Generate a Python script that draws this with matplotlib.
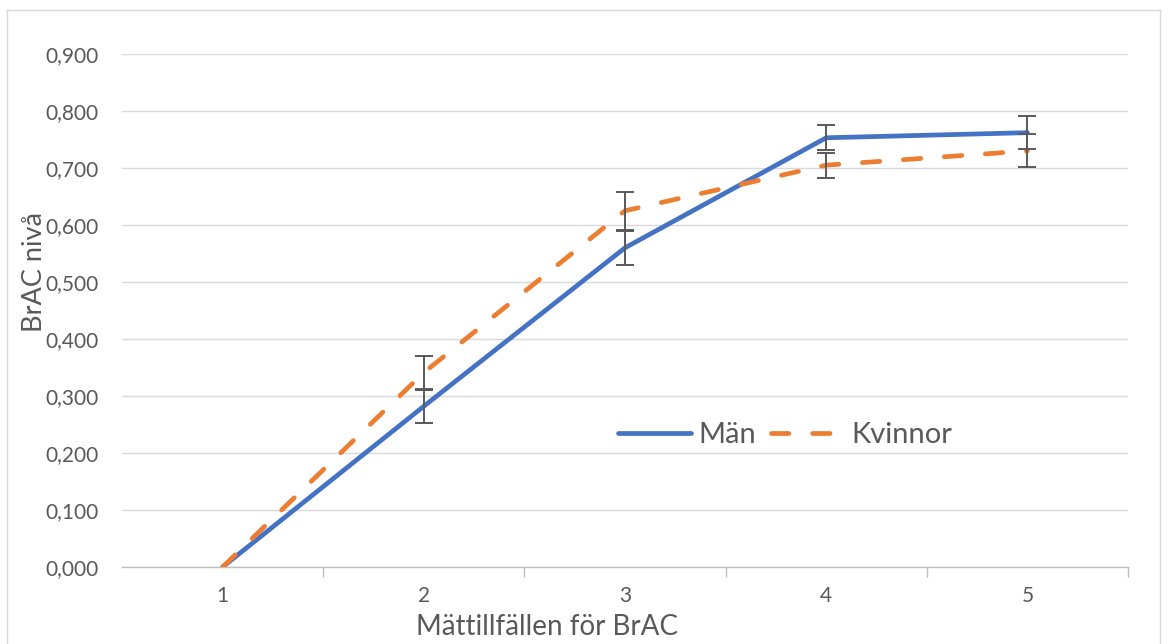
import matplotlib
matplotlib.use("Agg")
import matplotlib.pyplot as plt
from matplotlib.ticker import FuncFormatter
from matplotlib.lines import Line2D

categories = ["1", "2", "3", "4", "5"]
man = [0.0, 0.282, 0.560, 0.753, 0.762]
man_err = [0.0, 0.030, 0.030, 0.022, 0.029]
kvinnor = [0.0, 0.341, 0.625, 0.705, 0.730]
kvinnor_err = [0.0, 0.030, 0.033, 0.022, 0.029]
yticks = [0.0, 0.1, 0.2, 0.3, 0.4, 0.5, 0.6, 0.7, 0.8, 0.9]

plt.rcParams['font.family'] = ['Lato', 'DejaVu Sans']

W, H = 1168, 644
fig = plt.figure(figsize=(W / 100, H / 100), dpi=100)
ax = fig.add_axes([122 / W, 1 - 567 / H, (1128 - 122) / W, (567 - 54) / H])

x = list(range(1, len(categories) + 1))
blue = "#4472C4"
orange = "#ED7D31"
gray = "#595959"
dash = (3.7, 5.0)

ax.plot(x, man, color=blue, lw=3.4, solid_capstyle='round', zorder=3)
ax.plot(x, kvinnor, color=orange, lw=3.4, dashes=dash, dash_capstyle='round', zorder=3)
ax.errorbar(x[1:], man[1:], yerr=man_err[1:], fmt='none', ecolor=gray, elinewidth=1.4,
            capsize=6.5, capthick=1.4, zorder=4)
ax.errorbar(x[1:], kvinnor[1:], yerr=kvinnor_err[1:], fmt='none', ecolor=gray, elinewidth=1.4,
            capsize=6.5, capthick=1.4, zorder=4)

ax.set_xlim(0.5, 5.5)
ax.set_ylim(0, 0.9)
ax.set_yticks(yticks)
ax.yaxis.set_major_formatter(FuncFormatter(lambda v, p: f"{v:.3f}".replace(".", ",")))
ax.set_xticks(x)
ax.set_xticklabels(categories)
ax.set_xticks([1.5, 2.5, 3.5, 4.5, 5.5], minor=True)
ax.grid(axis='y', color="#D9D9D9", lw=1.0)
ax.set_axisbelow(True)
for s in ['top', 'right', 'left']:
    ax.spines[s].set_visible(False)
ax.spines['bottom'].set_color("#BFBFBF")
ax.spines['bottom'].set_linewidth(1.0)
ax.tick_params(axis='y', length=0, pad=17, labelsize=15, labelcolor=gray)
ax.tick_params(axis='x', which='major', length=0, pad=14, labelsize=15, labelcolor=gray)
ax.tick_params(axis='x', which='minor', length=7, color="#BFBFBF", width=1.0)

ax.set_ylabel("BrAC nivå", fontsize=19.5, color=gray)
ax.yaxis.label.set_va('center')
ax.yaxis.set_label_coords((34 - 122) / (1128 - 122), (567 - 272) / (567 - 54))
ax.set_xlabel("Mättillfällen för BrAC", fontsize=20, color=gray)
ax.xaxis.label.set_va('center')
ax.xaxis.set_label_coords((547 - 122) / (1128 - 122), -(627 - 567) / (567 - 54))

handles = [Line2D([], [], color=blue, lw=3.4, solid_capstyle='round'),
           Line2D([], [], color=orange, lw=3.4, dashes=dash, dash_capstyle='round')]
leg = ax.legend(handles, ["Män", "Kvinnor"], loc='center', ncol=2, frameon=False, fontsize=21,
                handlelength=2.5, columnspacing=0.5, handletextpad=0.25, labelcolor=gray)
leg.set_bbox_to_anchor(((785 - 122) / (1128 - 122), (567 - 435) / (567 - 54)), transform=ax.transAxes)

# chart-area border
fig.add_artist(plt.Line2D([7 / W, 7 / W], [0, 1 - 10 / H], color="#D9D9D9", lw=1.0))
fig.add_artist(plt.Line2D([7 / W, 1160 / W], [1 - 10 / H, 1 - 10 / H], color="#D9D9D9", lw=1.0))
fig.add_artist(plt.Line2D([1160 / W, 1160 / W], [0, 1 - 10 / H], color="#D9D9D9", lw=1.0))

fig.savefig("out.png", dpi=100)
